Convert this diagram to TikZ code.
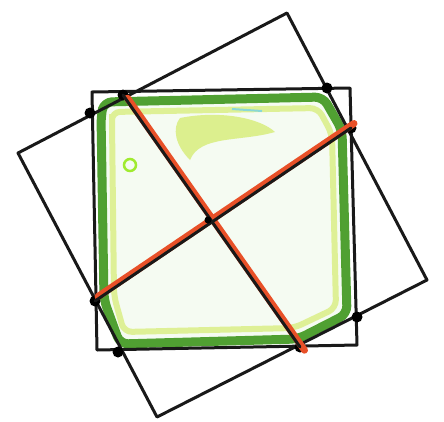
\documentclass[tikz,border=0pt]{standalone}
\definecolor{leaf}{RGB}{62,150,28}
\definecolor{lime}{RGB}{200,230,60}
\definecolor{paintred}{RGB}{232,80,40}
\begin{document}
\begin{tikzpicture}[x=1pt,y=-1pt,
  ink/.style={draw=black!90,line width=3pt,line join=round,line cap=round},
  redstroke/.style={draw=paintred,line width=7pt,line cap=round},
  dot/.style={circle,fill=black,inner sep=0pt,minimum size=11pt},
  greenband/.style={draw=leaf,line width=9pt,rounded corners=8pt,line join=round,opacity=0.9},
  lightband/.style={draw=lime,line width=6pt,rounded corners=8pt,opacity=0.5}]
\useasboundingbox (0,0) rectangle (444,421);
\fill[white] (0,0) rectangle (444,421);
% corners of the upright square
\coordinate (s1) at (92,92);
\coordinate (s2) at (350,88);
\coordinate (s3) at (357,345);
\coordinate (s4) at (97,350);
% corners of the tilted square
\coordinate (t1) at (18,153);
\coordinate (t2) at (287,13);
\coordinate (t3) at (427,280);
\coordinate (t4) at (157,417);
% painted band along the octagon
\fill[yellow!30!green!20,opacity=0.25] (104,104) -- (322,100) -- (340,132) -- (344,312) -- (296,336) -- (122,340) -- (106,298) -- (103,118) -- cycle;
\draw[lightband] (112,112) -- (318,108) -- (332,134) -- (336,308) -- (294,328) -- (124,332) -- (114,296) -- (112,122) -- cycle;
\draw[greenband] (104,102) -- (323,97) -- (342,130) -- (347,314) -- (298,339) -- (120,344) -- (104,300) -- (101,116) -- cycle;
\fill[lime,opacity=0.55] (180,118) .. controls (220,110) and (260,118) .. (275,132) .. controls (240,142) and (200,135) .. (190,160) .. controls (175,145) and (172,128) .. cycle;
\draw[cyan!60,line width=2pt,opacity=0.7] (232,109) -- (262,111);
\draw[lime!80!green,line width=2.5pt] (130,165) circle (6);
% squares
\draw[ink] (s1) -- (s2) -- (s3) -- (s4) -- cycle;
\draw[ink] (t1) -- (t2) -- (t3) -- (t4) -- cycle;
% intersection points
\node[dot] (p1) at (123,95) {};
\node[dot] (p2) at (327,88) {};
\node[dot] (p3) at (351,128) {};
\node[dot] (p4) at (357,317) {};
\node[dot] (p5) at (300,347) {};
\node[dot] (p6) at (118,352) {};
\node[dot] (p7) at (95,301) {};
\node[dot] (p8) at (90,113) {};
% diagonals
\draw[redstroke] ([xshift=4.5pt,yshift=-3.2pt]p1.center) -- ([xshift=4.5pt,yshift=-3.2pt]p5.center);
\draw[redstroke] ([xshift=3pt,yshift=4.5pt]p7.center) -- ([xshift=3pt,yshift=4.5pt]p3.center);
\draw[ink] (p1.center) -- (p5.center);
\draw[ink] (p7.center) -- (p3.center);
\node[dot,minimum size=7pt] (c) at (208,220) {};
\end{tikzpicture}
\end{document}
